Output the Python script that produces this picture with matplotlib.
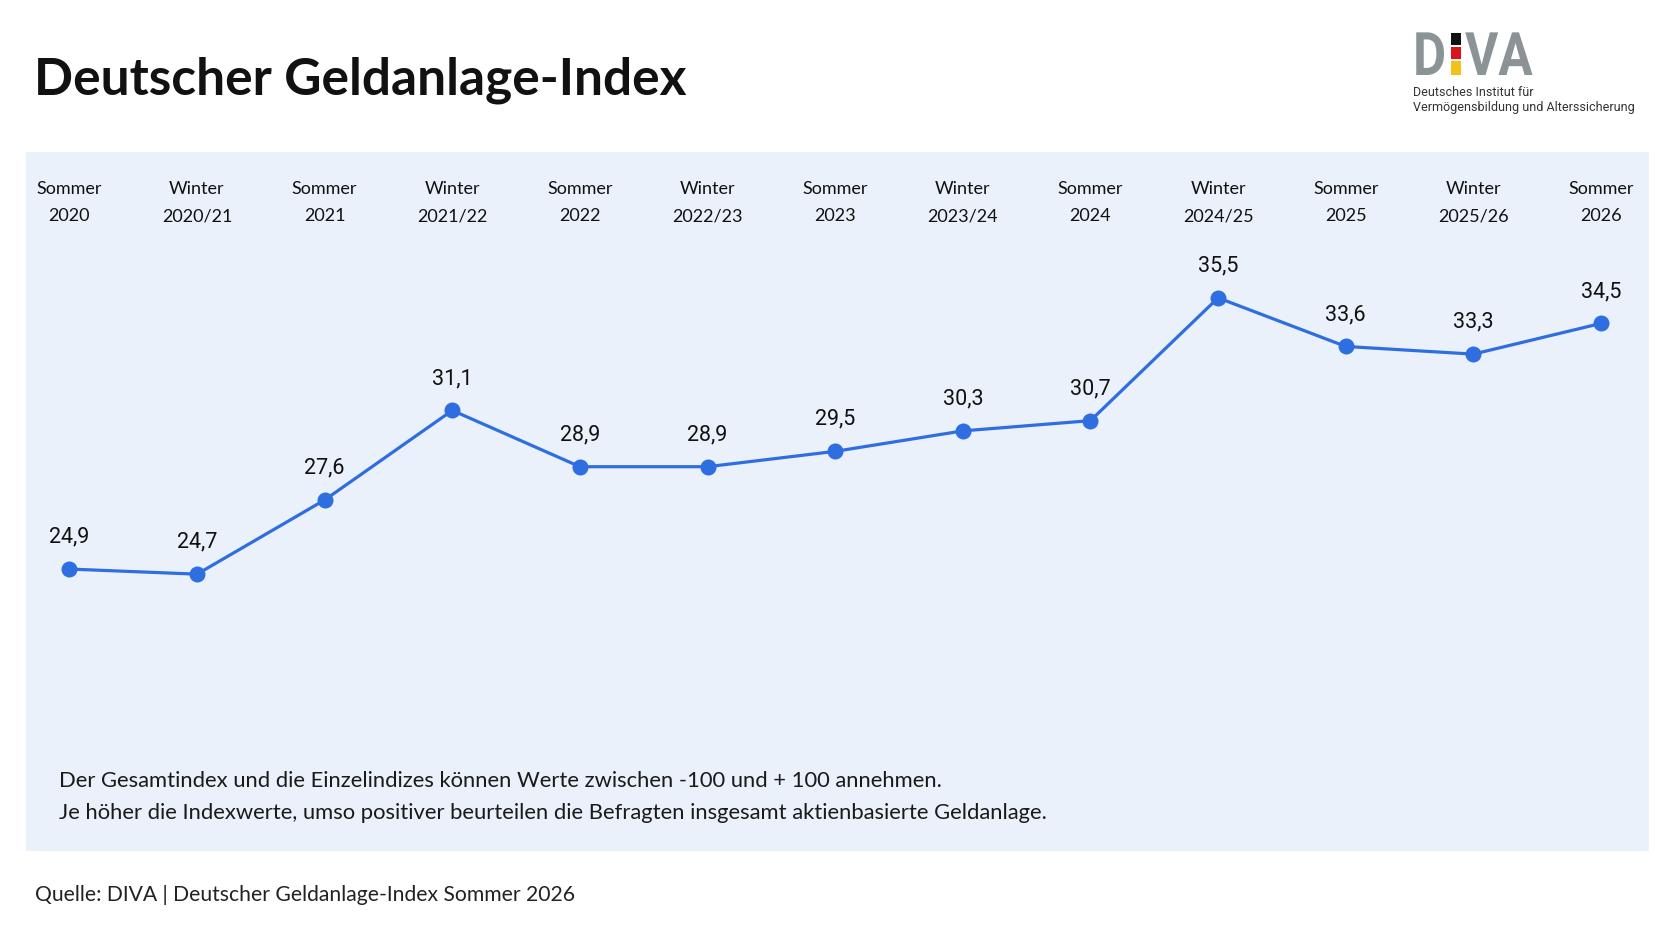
import matplotlib
matplotlib.use("Agg")
import matplotlib.pyplot as plt
import matplotlib.transforms as mtransforms
from matplotlib.patches import Rectangle, PathPatch
from matplotlib.textpath import TextPath
from matplotlib.font_manager import FontProperties

# ---- data -------------------------------------------------------------
seasons = ["Sommer", "Winter", "Sommer", "Winter", "Sommer", "Winter", "Sommer",
           "Winter", "Sommer", "Winter", "Sommer", "Winter", "Sommer"]
years = ["2020", "2020/21", "2021", "2021/22", "2022", "2022/23", "2023",
         "2023/24", "2024", "2024/25", "2025", "2025/26", "2026"]
values = [24.9, 24.7, 27.6, 31.1, 28.9, 28.9, 29.5, 30.3, 30.7, 35.5, 33.6, 33.3, 34.5]

title = "Deutscher Geldanlage-Index"
note_lines = [
    "Der Gesamtindex und die Einzelindizes können Werte zwischen -100 und + 100 annehmen.",
    "Je höher die Indexwerte, umso positiver beurteilen die Befragten insgesamt aktienbasierte Geldanlage.",
]
source = "Quelle: DIVA | Deutscher Geldanlage-Index Sommer 2026"
logo_sub = ["Deutsches Institut für", "Vermögensbildung und Alterssicherung"]

# ---- styling ------------------------------------------------------------
W, H = 1672, 941
LINE = "#2F6EE0"
PANEL = "#EAF1FB"
FONT = ["Lato", "DejaVu Sans"]
NUMFONT = ["Roboto", "DejaVu Sans"]

fig = plt.figure(figsize=(W / 100, H / 100), dpi=100, facecolor="white")


def fx(px):
    return px / W


def fy(py):
    return 1 - py / H


# panel axes
left, right, top, bottom = 26, 1649, 152, 851
ax = fig.add_axes([fx(left), fy(bottom), (right - left) / W, (bottom - top) / H])
ax.set_facecolor(PANEL)
for s in ax.spines.values():
    s.set_visible(False)
ax.set_xticks([])
ax.set_yticks([])

x = list(range(len(values)))
ax.plot(x, values, color=LINE, lw=2.3, marker="o", ms=10.5,
        mfc=LINE, mec=LINE, solid_capstyle="round", zorder=3)
ax.set_xlim(-0.34, len(values) - 1 + 0.376)
ax.set_ylim(13.88, 41.2)

for xi, v in zip(x, values):
    ax.annotate(f"{v:.1f}".replace(".", ","), (xi, v), xytext=(0, 23),
                textcoords="offset points", ha="center", va="center",
                fontsize=15.5, family=NUMFONT, color="#111111")

trans = mtransforms.blended_transform_factory(ax.transData, ax.transAxes)
for xi, s, yv in zip(x, seasons, years):
    ax.text(xi, (bottom - 189) / (bottom - top), s, transform=trans,
            ha="center", va="center", fontsize=13, family=FONT, color="#111111")
    ax.text(xi, (bottom - 216) / (bottom - top), yv, transform=trans,
            ha="center", va="center", fontsize=13, family=FONT, color="#111111")

# notes inside panel
fig.text(fx(59), fy(781), note_lines[0], ha="left", va="center",
         fontsize=15.8, family=FONT, color="#1a1a1a")
fig.text(fx(59), fy(813), note_lines[1], ha="left", va="center",
         fontsize=15.8, family=FONT, color="#1a1a1a")

# title
fig.text(fx(34), fy(80), title, ha="left", va="center", fontsize=37,
         fontweight="bold", family=FONT, color="#111111")

# source
fig.text(fx(35), fy(895), source, ha="left", va="center", fontsize=15.2,
         family=FONT, color="#222222")

# logo (condensed bold letters)
GRAY = "#8B9397"
fp = FontProperties(family=NUMFONT, weight="bold", size=60)


def logo_word(txt, x0, base, sx):
    tp = TextPath((0, 0), txt, prop=fp)
    tr = mtransforms.Affine2D().scale(sx, 1.0).translate(x0, H - base)
    patch = PathPatch(tr.transform_path(tp), facecolor=GRAY, edgecolor="none",
                      transform=mtransforms.Affine2D().scale(1 / W, 1 / H) + fig.transFigure)
    fig.patches.append(patch)


logo_word("D", 1413, 75, 0.85)
logo_word("VA", 1465, 75, 0.85)
for (y0, y1), c in zip([(33, 45), (47, 59), (61, 75)], ["#111111", "#D9141B", "#F2C21B"]):
    fig.patches.append(Rectangle((fx(1451), fy(y1)), fx(1461) - fx(1451), fy(y0) - fy(y1),
                                 transform=fig.transFigure, facecolor=c, edgecolor="none"))
fig.text(fx(1413), fy(92), logo_sub[0], ha="left", va="center", fontsize=9,
         family=["Roboto", "DejaVu Sans"], color="#333333")
fig.text(fx(1413), fy(108), logo_sub[1], ha="left", va="center", fontsize=9,
         family=["Roboto", "DejaVu Sans"], color="#333333")

fig.savefig("out.png", dpi=100, facecolor="white")
